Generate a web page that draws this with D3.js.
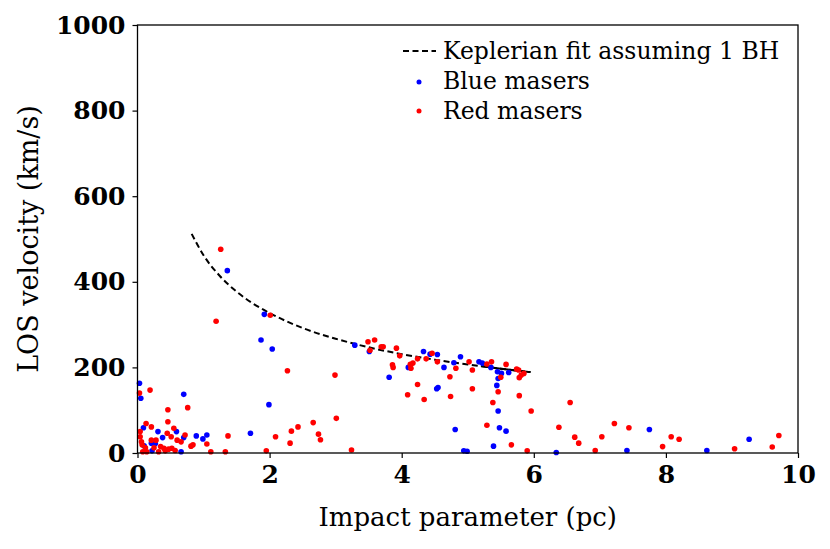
<!DOCTYPE html>
<html>
<head>
<meta charset="utf-8">
<script src="https://cdn.jsdelivr.net/npm/d3@7"></script>
<style>
  body { margin: 0; background: #fff; }
  svg { display: block; }
  text { font-family: "DejaVu Serif", serif; fill: #000; }
</style>
</head>
<body>
<div id="chart"></div>
<script>
// impact parameter (pc) and LOS velocity (km/s)
var blueX = [1.36, 1.92, 1.87, 2.04, 1.99, 0.03, 0.05, 0.70, 0.09, 0.31, 0.59, 0.38, 0.70, 0.89,
  1.05, 0.99, 0.27, 0.21, 0.10, 0.22, 0.66, 1.71,
  3.29, 3.51, 4.10, 4.33, 4.43, 4.54, 4.64, 4.79, 4.89, 5.17, 5.22, 5.35, 5.45, 5.51, 5.62, 5.46,
  3.81, 4.53, 4.55, 5.44, 5.46, 5.48, 5.58, 4.81, 5.39, 4.94, 4.99,
  7.75, 7.41, 6.34, 8.62, 9.26];
var blueV = [426, 324, 264, 243, 113, 163, 128, 137, 59, 50, 50, 36, 36, 40,
  42, 33, 22, 23, 17, 5, 3, 46,
  252, 237, 200, 237, 231, 230, 200, 211, 225, 213, 210, 200, 190, 186, 188, 174,
  177, 150, 153, 158, 98, 59, 51, 55, 16, 5, 4,
  55, 6, 1, 6, 32];

var redX = [1.26, 1.19, 2.01, 2.27, 0.19, 0.03, 0.76, 0.46, 0.46, 0.13, 0.21, 0.55, 0.04, 0.45,
  0.72, 1.37, 0.04, 0.51, 0.60, 0.66, 0.21, 0.28, 0.06, 0.07, 0.12, 1.05, 0.84, 0.81, 0.35,
  0.40, 0.47, 0.52, 0.25, 0.42, 0.32, 0.08, 0.14, 1.11, 1.33, 0.57, 1.95, 2.09, 2.31, 2.33,
  2.43, 2.66, 2.74, 2.77,
  3.49, 3.59, 3.52, 3.69, 3.72, 3.92, 3.97, 3.86, 3.87, 4.13, 4.17, 4.14, 4.24, 4.46, 4.37,
  4.54, 4.82, 5.02, 5.07, 5.29, 5.36, 5.58, 5.74, 5.77, 5.81, 5.85, 5.78, 5.50, 4.73, 4.24,
  5.07, 4.09, 4.34, 4.74, 5.46, 5.78, 5.38, 5.96, 5.29, 5.66, 5.90, 3.24, 2.99, 3.01,
  6.55, 6.38, 6.62, 6.68, 6.93, 7.03, 7.22, 7.44, 7.95, 8.08, 8.20, 9.04, 9.61, 9.71];
var redV = [476, 308, 322, 192, 147, 140, 106, 101, 73, 69, 61, 58, 50, 46,
  42, 40, 38, 38, 30, 26, 30, 30, 26, 19, 12, 21, 19, 16, 15,
  11, 9, 11, 12, 5, 3, 3, 3, 3, 3, 6, 5, 38, 23, 51,
  61, 71, 44, 31,
  260, 264, 240, 248, 248, 245, 227, 206, 200, 207, 210, 198, 220, 233, 220,
  213, 198, 213, 194, 208, 213, 207, 196, 194, 182, 186, 176, 177, 178, 160,
  150, 136, 125, 132, 143, 134, 118, 98, 65, 19, 5, 7, 182, 81,
  118, 60, 37, 23, 6, 38, 69, 59, 15, 38, 32, 10, 14, 41];

// keplerian fit curve, sampled along the drawn line
var fitX = [0.82, 1.0, 1.25, 1.5, 1.75, 2.0, 2.5, 3.0, 3.5, 4.0, 4.5, 5.0, 5.2, 5.5, 5.95];
var fitV = [512, 462, 413, 377, 349, 327, 292, 267, 247, 231, 218, 207, 203, 197, 189];
var fitSolidFrom = 5.2;

var xTicks = [0, 2, 4, 6, 8, 10];
var yTicks = [0, 200, 400, 600, 800, 1000];

var width = 830, height = 549;
var margin = {top: 25, right: 32, bottom: 96, left: 137.5};
var dotR = 2.8;

var svg = d3.select("#chart").append("svg")
  .attr("width", width)
  .attr("height", height);

var xScale = d3.scaleLinear().domain([0, 10]).range([margin.left, width - margin.right]);
var yScale = d3.scaleLinear().domain([0, 1000]).range([height - margin.bottom, margin.top]);

// fit line
var fitPts = fitX.map(function(d, i) { return [d, fitV[i]]; });
var line = d3.line()
  .x(function(d) { return xScale(d[0]); })
  .y(function(d) { return yScale(d[1]); })
  .curve(d3.curveMonotoneX);

svg.append("path")
  .datum(fitPts)
  .attr("d", line)
  .attr("fill", "none")
  .attr("stroke", "#000")
  .attr("stroke-width", 2)
  .attr("stroke-dasharray", "6,3.5");

// where the dashes overlap in the original the line reads solid
svg.append("path")
  .datum(fitPts.filter(function(d) { return d[0] >= fitSolidFrom; }))
  .attr("d", line)
  .attr("fill", "none")
  .attr("stroke", "#000")
  .attr("stroke-width", 2);

svg.append("g").selectAll("circle")
  .data(blueX)
  .enter().append("circle")
  .attr("cx", function(d) { return xScale(d); })
  .attr("cy", function(d, i) { return yScale(blueV[i]); })
  .attr("r", dotR)
  .attr("fill", "#0000ff");

svg.append("g").selectAll("circle")
  .data(redX)
  .enter().append("circle")
  .attr("cx", function(d) { return xScale(d); })
  .attr("cy", function(d, i) { return yScale(redV[i]); })
  .attr("r", dotR)
  .attr("fill", "#ff0000");

// axes
var xAxis = svg.append("g")
  .attr("transform", "translate(0," + yScale(0) + ")")
  .call(d3.axisBottom(xScale).tickValues(xTicks).tickSize(5).tickPadding(7).tickFormat(d3.format("d")));

var yAxis = svg.append("g")
  .attr("transform", "translate(" + xScale(0) + ",0)")
  .call(d3.axisLeft(yScale).tickValues(yTicks).tickSize(5).tickPadding(7).tickFormat(d3.format("d")));

[xAxis, yAxis].forEach(function(a) {
  a.select(".domain").remove();
  a.selectAll("line").attr("stroke", "#000").attr("stroke-width", 1.2);
  a.selectAll("text")
    .style("font-family", "'DejaVu Serif', serif")
    .style("font-size", "25px")
    .style("font-weight", "bold")
    .attr("fill", "#000");
});

// frame
svg.append("rect")
  .attr("x", xScale(0))
  .attr("y", yScale(1000))
  .attr("width", xScale(10) - xScale(0))
  .attr("height", yScale(0) - yScale(1000))
  .attr("fill", "none")
  .attr("stroke", "#000")
  .attr("stroke-width", 1.3);

// axis labels
svg.append("text")
  .attr("x", (xScale(0) + xScale(10)) / 2)
  .attr("y", 526)
  .attr("text-anchor", "middle")
  .style("font-size", "26px")
  .text("Impact parameter (pc)");

svg.append("text")
  .attr("transform", "translate(38," + ((yScale(0) + yScale(1000)) / 2) + ") rotate(-90)")
  .attr("text-anchor", "middle")
  .style("font-size", "27px")
  .text("LOS velocity (km/s)");

// legend
var legend = svg.append("g");
legend.append("line")
  .attr("x1", 403).attr("x2", 436)
  .attr("y1", 51).attr("y2", 51)
  .attr("stroke", "#000")
  .attr("stroke-width", 2)
  .attr("stroke-dasharray", "6,3.5");
legend.append("circle").attr("cx", 419).attr("cy", 82).attr("r", 2.5).attr("fill", "#0000ff");
legend.append("circle").attr("cx", 419).attr("cy", 111).attr("r", 2.5).attr("fill", "#ff0000");

var legendText = ["Keplerian fit assuming 1 BH", "Blue masers", "Red masers"];
legend.selectAll("text")
  .data(legendText)
  .enter().append("text")
  .attr("x", 443)
  .attr("y", function(d, i) { return 59 + i * 30; })
  .style("font-size", "23.5px")
  .text(function(d) { return d; });
</script>
</body>
</html>
